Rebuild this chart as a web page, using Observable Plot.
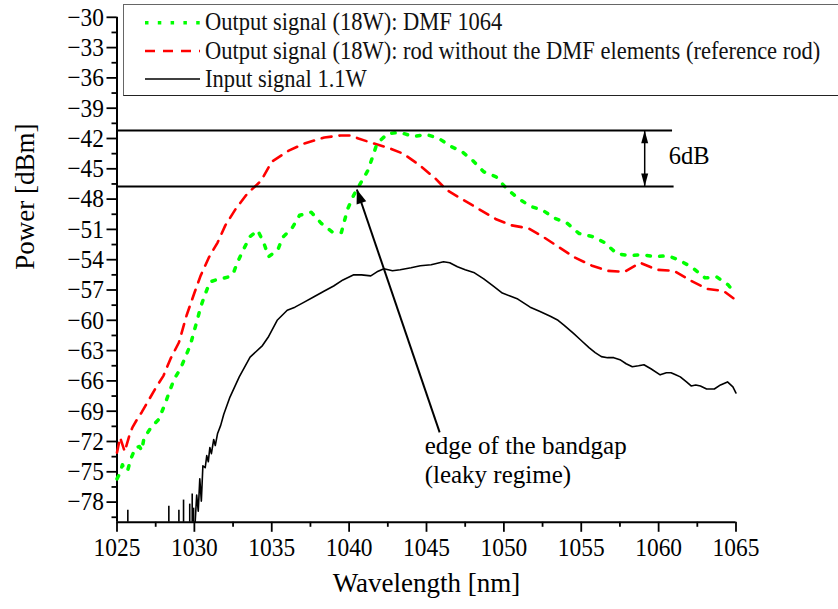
<!DOCTYPE html>
<html><head><meta charset="utf-8">
<script src="https://cdn.jsdelivr.net/npm/d3@7"></script>
<script src="https://cdn.jsdelivr.net/npm/@observablehq/plot@0.6"></script>
<style>
body{margin:0;background:#fff;}
#wrap{position:relative;width:838px;height:609px;overflow:hidden;font-family:'Liberation Serif','Times New Roman',serif;background:#fff;}
#legend{position:absolute;left:123px;top:4px;width:760px;height:92px;box-sizing:border-box;border:1.5px solid #666;border-bottom-color:#222;background:#fff;}
#legendLines{position:absolute;left:0;top:0;}
.lt{position:absolute;left:205px;font-size:26px;line-height:28px;white-space:nowrap;color:#111;transform:scaleX(0.865);transform-origin:0 0;}
</style></head>
<body><div id="wrap"></div>
<script>
// ---- data ----
const xDomain = [1025, 1065];
const yDomain = [-80, -30];
const xMajorTicks = [1025, 1030, 1035, 1040, 1045, 1050, 1055, 1060, 1065];
const xMinorTicks = [1027.5, 1032.5, 1037.5, 1042.5, 1047.5, 1052.5, 1057.5, 1062.5];
const yMajorTicks = [-30, -33, -36, -39, -42, -45, -48, -51, -54, -57, -60, -63, -66, -69, -72, -75, -78];
const yMinorTicks = [-31.5, -34.5, -37.5, -40.5, -43.5, -46.5, -49.5, -52.5, -55.5, -58.5, -61.5, -64.5, -67.5, -70.5, -73.5, -76.5, -79.5];

const legendLabels = [
  "Output signal (18W): DMF 1064",
  "Output signal (18W): rod without the DMF elements (reference rod)",
  "Input signal 1.1W"
];

// Output signal (18W): DMF 1064  [wavelength nm, power dBm]
const dmfSeries = [
  [1025.0,-75.7],[1025.2,-75.1],[1025.35,-74.3],[1025.5,-74.9],[1025.7,-74.8],[1025.9,-73.7],
  [1026.2,-72.6],[1026.45,-72.5],[1026.6,-72.9],[1026.75,-71.6],[1026.95,-71.2],[1027.2,-70.6],
  [1027.7,-69.8],[1028.1,-68.3],[1028.4,-67.0],[1028.7,-65.8],[1029.1,-64.8],[1029.4,-63.7],
  [1029.75,-62.4],[1029.96,-61.2],[1030.2,-59.9],[1030.4,-58.7],[1030.7,-57.4],[1031.0,-56.2],
  [1031.4,-56.0],[1031.75,-55.9],[1032.2,-55.7],[1032.5,-55.4],[1032.8,-54.2],[1033.2,-52.9],
  [1033.6,-51.7],[1034.1,-51.1],[1034.5,-52.4],[1034.8,-53.7],[1035.4,-53.0],[1035.7,-51.8],
  [1036.3,-50.9],[1036.8,-49.6],[1037.55,-49.3],[1038.2,-50.4],[1038.95,-51.3],[1039.5,-51.3],
  [1039.9,-49.0],[1040.3,-47.6],[1040.75,-46.4],[1041.2,-45.2],[1041.5,-43.9],[1041.8,-42.5],
  [1042.5,-41.5],[1043.3,-41.4],[1044.15,-41.8],[1045.0,-41.6],[1045.8,-42.0],[1046.6,-42.8],
  [1047.3,-43.3],[1048.0,-44.2],[1048.7,-45.3],[1049.5,-45.8],[1050.2,-47.0],[1050.9,-47.9],
  [1051.7,-48.7],[1052.5,-49.1],[1053.3,-49.9],[1054.1,-50.4],[1054.85,-51.4],[1055.7,-51.7],
  [1056.5,-52.3],[1057.3,-53.4],[1058.1,-53.6],[1058.9,-53.5],[1059.8,-53.7],[1060.6,-53.6],
  [1061.4,-54.1],[1062.2,-54.8],[1063.0,-55.8],[1063.75,-55.7],[1064.5,-56.5],[1064.8,-57.1]
];

// Output signal (18W): reference rod
const refSeries = [
  [1025.0,-73.1],[1025.2,-71.6],[1025.5,-73.0],[1025.8,-71.4],[1026.0,-70.6],[1026.3,-69.8],
  [1026.6,-69.1],[1027.05,-67.9],[1027.5,-66.7],[1028.0,-65.5],[1028.46,-63.8],[1029.0,-62.2],
  [1029.5,-59.5],[1030.0,-57.3],[1030.4,-55.6],[1030.93,-53.8],[1031.5,-52.3],[1032.0,-50.6],
  [1032.66,-49.0],[1033.4,-47.5],[1034.3,-46.2],[1035.0,-44.3],[1036.1,-43.2],[1037.1,-42.5],
  [1038.4,-41.9],[1039.45,-41.7],[1040.1,-41.7],[1040.6,-42.0],[1041.6,-42.5],[1042.5,-42.9],
  [1043.5,-43.5],[1044.6,-44.7],[1045.6,-46.0],[1046.3,-47.1],[1047.4,-48.1],[1048.4,-49.0],
  [1049.5,-50.0],[1050.5,-50.6],[1051.6,-50.9],[1052.6,-51.8],[1053.7,-52.9],[1054.6,-53.8],
  [1055.7,-54.6],[1056.7,-55.1],[1057.8,-55.2],[1058.8,-54.3],[1059.9,-55.0],[1061.0,-55.1],
  [1062.1,-56.1],[1063.15,-56.9],[1064.2,-57.1],[1065.0,-58.0]
];

// Input signal 1.1W
const inputSeries = [
  [1030.05,-80.0],[1030.15,-77.3],[1030.25,-78.9],[1030.35,-75.7],[1030.45,-77.9],[1030.55,-74.4],
  [1030.7,-74.6],[1030.8,-73.4],[1030.9,-74.0],[1031.0,-72.6],[1031.1,-73.2],[1031.25,-71.8],
  [1031.35,-72.4],[1031.5,-71.2],[1031.7,-70.4],[1031.9,-69.3],[1032.3,-67.6],[1032.9,-65.6],
  [1033.6,-63.65],[1034.4,-62.5],[1034.8,-61.6],[1035.35,-60.0],[1036.0,-59.0],[1036.5,-58.7],
  [1037.1,-58.2],[1037.7,-57.7],[1038.4,-57.1],[1039.0,-56.6],[1039.6,-56.0],[1040.3,-55.5],
  [1040.8,-55.5],[1041.4,-55.6],[1041.8,-55.2],[1042.25,-54.9],[1042.8,-55.1],[1043.3,-55.0],
  [1044.0,-54.8],[1044.6,-54.6],[1045.3,-54.5],[1046.1,-54.2],[1046.5,-54.3],[1047.0,-54.7],
  [1047.5,-55.0],[1048.1,-55.3],[1048.7,-55.9],[1049.3,-56.6],[1049.9,-57.3],[1050.4,-57.6],
  [1050.9,-57.9],[1051.3,-58.3],[1051.7,-58.7],[1052.3,-59.1],[1053.0,-59.6],[1053.5,-60.0],
  [1053.9,-60.5],[1054.5,-61.3],[1055.0,-62.0],[1055.5,-62.7],[1055.9,-63.2],[1056.3,-63.6],
  [1056.7,-63.7],[1057.1,-63.7],[1057.5,-63.9],[1057.9,-64.3],[1058.3,-64.6],[1058.7,-64.5],
  [1059.05,-64.4],[1059.5,-64.8],[1060.1,-65.4],[1060.5,-65.2],[1060.8,-65.2],[1061.1,-65.4],
  [1061.4,-65.6],[1061.8,-66.1],[1062.1,-66.5],[1062.4,-66.4],[1062.7,-66.5],[1063.1,-66.8],
  [1063.6,-66.8],[1064.0,-66.4],[1064.45,-66.1],[1064.8,-66.6],[1065.0,-67.2]
];
// noise spikes of the input trace below 1030 nm
const inputSpikes = [
  [1025.7,-78.8],[1028.35,-78.4],[1029.0,-78.8],[1029.3,-77.8],[1029.7,-78.2],[1029.86,-77.2],[1029.95,-78.6]
];

// annotations
const levelLines = [{y: -41.2, x1: 1025, x2: 1060.9}, {y: -46.75, x1: 1025, x2: 1061.0}];
const gapArrow = [{x: 1059.1, yTop: -41.2, yBottom: -46.75}];
const edgeArrow = [{x1: 1045.85, y1: -71.1, x2: 1040.5, y2: -47.05}];
const labels6dB = [{x: 1060.65, y: -43.7, text: "6dB"}];
const edgeLabels = [
  {x: 1044.88, y: -72.4, text: "edge of the bandgap"},
  {x: 1044.88, y: -75.34, text: "(leaky regime)"}
];
const xLabel = "Wavelength [nm]";
const yLabel = "Power [dBm]";

// ---- drawing ----
const FONT = "'Liberation Serif','Times New Roman',serif";
const toObj = s => s.map(([x, y]) => ({x, y}));
// arrowhead symbol with its tip at the origin, pointing up
const headSymbol = (ratio) => ({
  draw(ctx, size) {
    const L = Math.sqrt(size);
    ctx.moveTo(0, 0);
    ctx.lineTo(-L * ratio, L);
    ctx.lineTo(L * ratio, L);
    ctx.closePath();
  }
});

const fmt = d => String(d).replace("-", "\u2212");
const chart = Plot.plot({
  width: 838,
  height: 609,
  marginLeft: 116.5,
  marginRight: 102.5,
  marginTop: 16.8,
  marginBottom: 87.2,
  x: {domain: xDomain},
  y: {domain: yDomain},
  style: {fontFamily: FONT, background: "white", color: "black"},
  marks: [
    Plot.axisX(xMajorTicks, {tickSize: 10, tickPadding: 5, fontSize: 26, tickFormat: fmt, strokeWidth: 1.8, label: null}),
    Plot.axisX(xMinorTicks, {tickSize: 5, tickFormat: () => "", strokeWidth: 1.8, label: null}),
    Plot.axisY(yMajorTicks, {tickSize: 10, tickPadding: 3, fontSize: 26, tickFormat: fmt, strokeWidth: 1.8, label: null}),
    Plot.axisY(yMinorTicks, {tickSize: 5, tickFormat: () => "", strokeWidth: 1.8, label: null}),
    Plot.ruleX([xDomain[0]], {y1: yDomain[0], y2: yDomain[1], strokeWidth: 2}),
    Plot.ruleY([yDomain[0]], {x1: xDomain[0], x2: xDomain[1], strokeWidth: 2}),
    // input spikes + trace
    Plot.ruleX(toObj(inputSpikes), {x: "x", y1: yDomain[0], y2: "y", stroke: "black", strokeWidth: 1.6}),
    Plot.line(toObj(inputSeries), {x: "x", y: "y", stroke: "black", strokeWidth: 1.6}),
    Plot.line(toObj(refSeries), {x: "x", y: "y", stroke: "#ff0000", strokeWidth: 2.6, strokeDasharray: "10 8"}),
    Plot.line(toObj(dmfSeries), {x: "x", y: "y", stroke: "#00ff00", strokeWidth: 3.5, strokeDasharray: "3.5 9.3"}),
    // 6 dB level lines
    Plot.ruleY(levelLines, {y: "y", x1: "x1", x2: "x2", stroke: "black", strokeWidth: 2}),
    Plot.link(gapArrow, {x1: "x", x2: "x", y1: "yTop", y2: "yBottom", stroke: "black", strokeWidth: 1.5}),
    Plot.dot(gapArrow, {x: "x", y: "yTop", symbol: headSymbol(0.27), r: 7.3, rotate: 0, fill: "black", stroke: null}),
    Plot.dot(gapArrow, {x: "x", y: "yBottom", symbol: headSymbol(0.27), r: 7.3, rotate: 180, fill: "black", stroke: null}),
    Plot.text(labels6dB, {x: "x", y: "y", text: "text", textAnchor: "start", fontSize: 24.5, fill: "black", ariaLabel: "gap-label"}),
    // bandgap edge arrow
    Plot.link(edgeArrow, {x1: "x1", y1: "y1", x2: "x2", y2: "y2", stroke: "black", strokeWidth: 2}),
    Plot.dot(edgeArrow, {x: "x2", y: "y2", symbol: headSymbol(0.36), r: 8, rotate: -18.8, fill: "black", stroke: null}),
    Plot.text(edgeLabels, {x: "x", y: "y", text: "text", textAnchor: "start", fontSize: 25, fill: "black"}),
    // axis titles
    Plot.text([xLabel], {frameAnchor: "bottom", dy: 69.7, fontSize: 27, fill: "black"}),
    Plot.text([yLabel], {frameAnchor: "left", dx: -91.5, rotate: -90, fontSize: 27, fill: "black"})
  ]
});

const wrap = document.getElementById("wrap");
wrap.appendChild(chart);

// the reference typeface is slightly condensed: squeeze tick labels horizontally
function squeeze(selector, k) {
  chart.querySelectorAll(selector).forEach(t => {
    const w = t.getComputedTextLength();
    if (w > 0) {
      t.setAttribute("textLength", (w * k).toFixed(2));
      t.setAttribute("lengthAdjust", "spacingAndGlyphs");
    }
  });
}
squeeze('g[aria-label="x-axis tick label"] text', 0.9);
squeeze('g[aria-label="y-axis tick label"] text', 0.9);
squeeze('g[aria-label="gap-label"] text', 0.9);

// legend (drawn over the plot, top right, as in the reference)
const legend = document.createElement("div");
legend.id = "legend";
wrap.appendChild(legend);
const ns = "http://www.w3.org/2000/svg";
const lsvg = document.createElementNS(ns, "svg");
lsvg.setAttribute("id", "legendLines");
lsvg.setAttribute("width", 838);
lsvg.setAttribute("height", 100);
const legendStyles = [
  {stroke: "#00ff00", width: 3.5, dash: "3.5 9.3", y: 22.7},
  {stroke: "#ff0000", width: 2.6, dash: "10 8", y: 51},
  {stroke: "black", width: 1.6, dash: null, y: 79}
];
legendStyles.forEach(s => {
  const l = document.createElementNS(ns, "line");
  l.setAttribute("x1", 145); l.setAttribute("x2", 200);
  l.setAttribute("y1", s.y); l.setAttribute("y2", s.y);
  l.setAttribute("stroke", s.stroke);
  l.setAttribute("stroke-width", s.width);
  if (s.dash) l.setAttribute("stroke-dasharray", s.dash);
  lsvg.appendChild(l);
});
wrap.appendChild(lsvg);
const textTops = [7.9, 36.5, 64.5];
legendLabels.forEach((t, i) => {
  const d = document.createElement("div");
  d.className = "lt";
  d.style.top = textTops[i] + "px";
  d.textContent = t;
  wrap.appendChild(d);
});
</script></body></html>
